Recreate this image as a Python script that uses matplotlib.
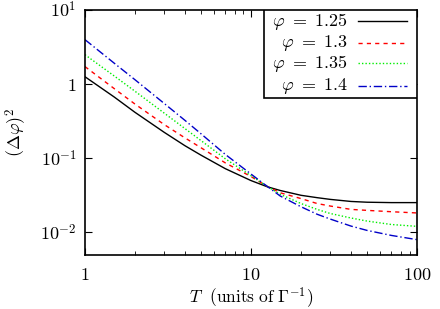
import numpy as np
import matplotlib
matplotlib.use("Agg")
import matplotlib.pyplot as plt
from matplotlib.patches import Rectangle
from matplotlib.lines import Line2D
from matplotlib.ticker import FixedLocator, LogLocator, NullFormatter

plt.rcParams["mathtext.fontset"] = "cm"
plt.rcParams["font.family"] = "DejaVu Serif"

# values
T = [1, 1.5, 2, 3, 4, 5, 7, 10, 12.5, 15, 20, 25, 30, 40, 50, 70, 100]
phi_125 = [1.24, 0.66, 0.41, 0.22, 0.145, 0.108, 0.071, 0.049, 0.0405, 0.036, 0.031, 0.0288, 0.0273, 0.0256, 0.0250, 0.0247, 0.0247]
phi_130 = [1.70, 0.857, 0.53, 0.28, 0.185, 0.136, 0.085, 0.0555, 0.041, 0.0335, 0.028, 0.024, 0.0222, 0.0200, 0.0194, 0.0186, 0.0179]
phi_135 = [2.46, 1.27, 0.79, 0.40, 0.247, 0.170, 0.0966, 0.057, 0.041, 0.032, 0.024, 0.020, 0.0176, 0.0153, 0.0139, 0.0125, 0.0118]
phi_140 = [3.93, 1.89, 1.13, 0.54, 0.319, 0.210, 0.1106, 0.060, 0.041, 0.0303, 0.0217, 0.0172, 0.0148, 0.0119, 0.0104, 0.0089, 0.0078]

labels = [r"$\varphi\ =\ 1.25$", r"$\varphi\ =\ 1.3$", r"$\varphi\ =\ 1.35$", r"$\varphi\ =\ 1.4$"]
series = [phi_125, phi_130, phi_135, phi_140]
colors = ["black", "#ff0000", "#00ee00", "#0000c8"]
styles = ["-", (0, (3, 3)), (0, (1, 1.5)), (0, (6, 2, 1, 2))]

fig = plt.figure(figsize=(4.4, 3.09), dpi=100)
ax = fig.add_axes([0.193, 0.176, 0.755, 0.793])

for y, c, ls in zip(series, colors, styles):
    ax.plot(T, y, color=c, linestyle=ls, linewidth=1.0)

ax.set_xscale("log")
ax.set_yscale("log")
ax.set_xlim(1, 100)
ax.set_ylim(0.0049, 10)

ax.xaxis.set_major_locator(FixedLocator([1, 10, 100]))
ax.set_xticklabels([r"$1$", r"$10$", r"$100$"])
ax.xaxis.set_minor_locator(LogLocator(base=10, subs=np.arange(2, 10)))
ax.xaxis.set_minor_formatter(NullFormatter())
ax.yaxis.set_major_locator(FixedLocator([0.01, 0.1, 1, 10]))
ax.set_yticklabels([r"$10^{-2}$", r"$10^{-1}$", r"$1$", r"$10^{1}$"])
ax.yaxis.set_minor_locator(FixedLocator([]))

ax.tick_params(which="both", direction="in", top=True, right=True, labelsize=13, colors="black")
ax.tick_params(axis="x", which="major", length=5, pad=8)
ax.tick_params(axis="y", which="major", length=5, pad=6)
ax.tick_params(which="minor", length=3)
for s in ax.spines.values():
    s.set_linewidth(1.2)

ax.set_xlabel(r"$T\ \ (\mathrm{units\ of\ }\Gamma^{-1})$", fontsize=12.5, labelpad=1)
ax.set_ylabel(r"$(\Delta\varphi)^2$", fontsize=13, labelpad=8)

# legend box drawn like gnuplot: labels right aligned, samples on the right
ax.add_patch(Rectangle((0.540, 0.639), 0.46, 0.361, transform=ax.transAxes,
                       facecolor="white", edgecolor="black", linewidth=1.2, zorder=5))
rows = [0.953, 0.865, 0.780, 0.688]
for lab, c, ls, yy in zip(labels, colors, styles, rows):
    ax.text(0.792, yy, lab, transform=ax.transAxes, ha="right", va="center",
            fontsize=13, zorder=6)
    ax.add_line(Line2D([0.822, 0.970], [yy, yy], transform=ax.transAxes, color=c,
                       linestyle=ls, linewidth=1.0, zorder=6))

fig.savefig("out.png", dpi=100)
